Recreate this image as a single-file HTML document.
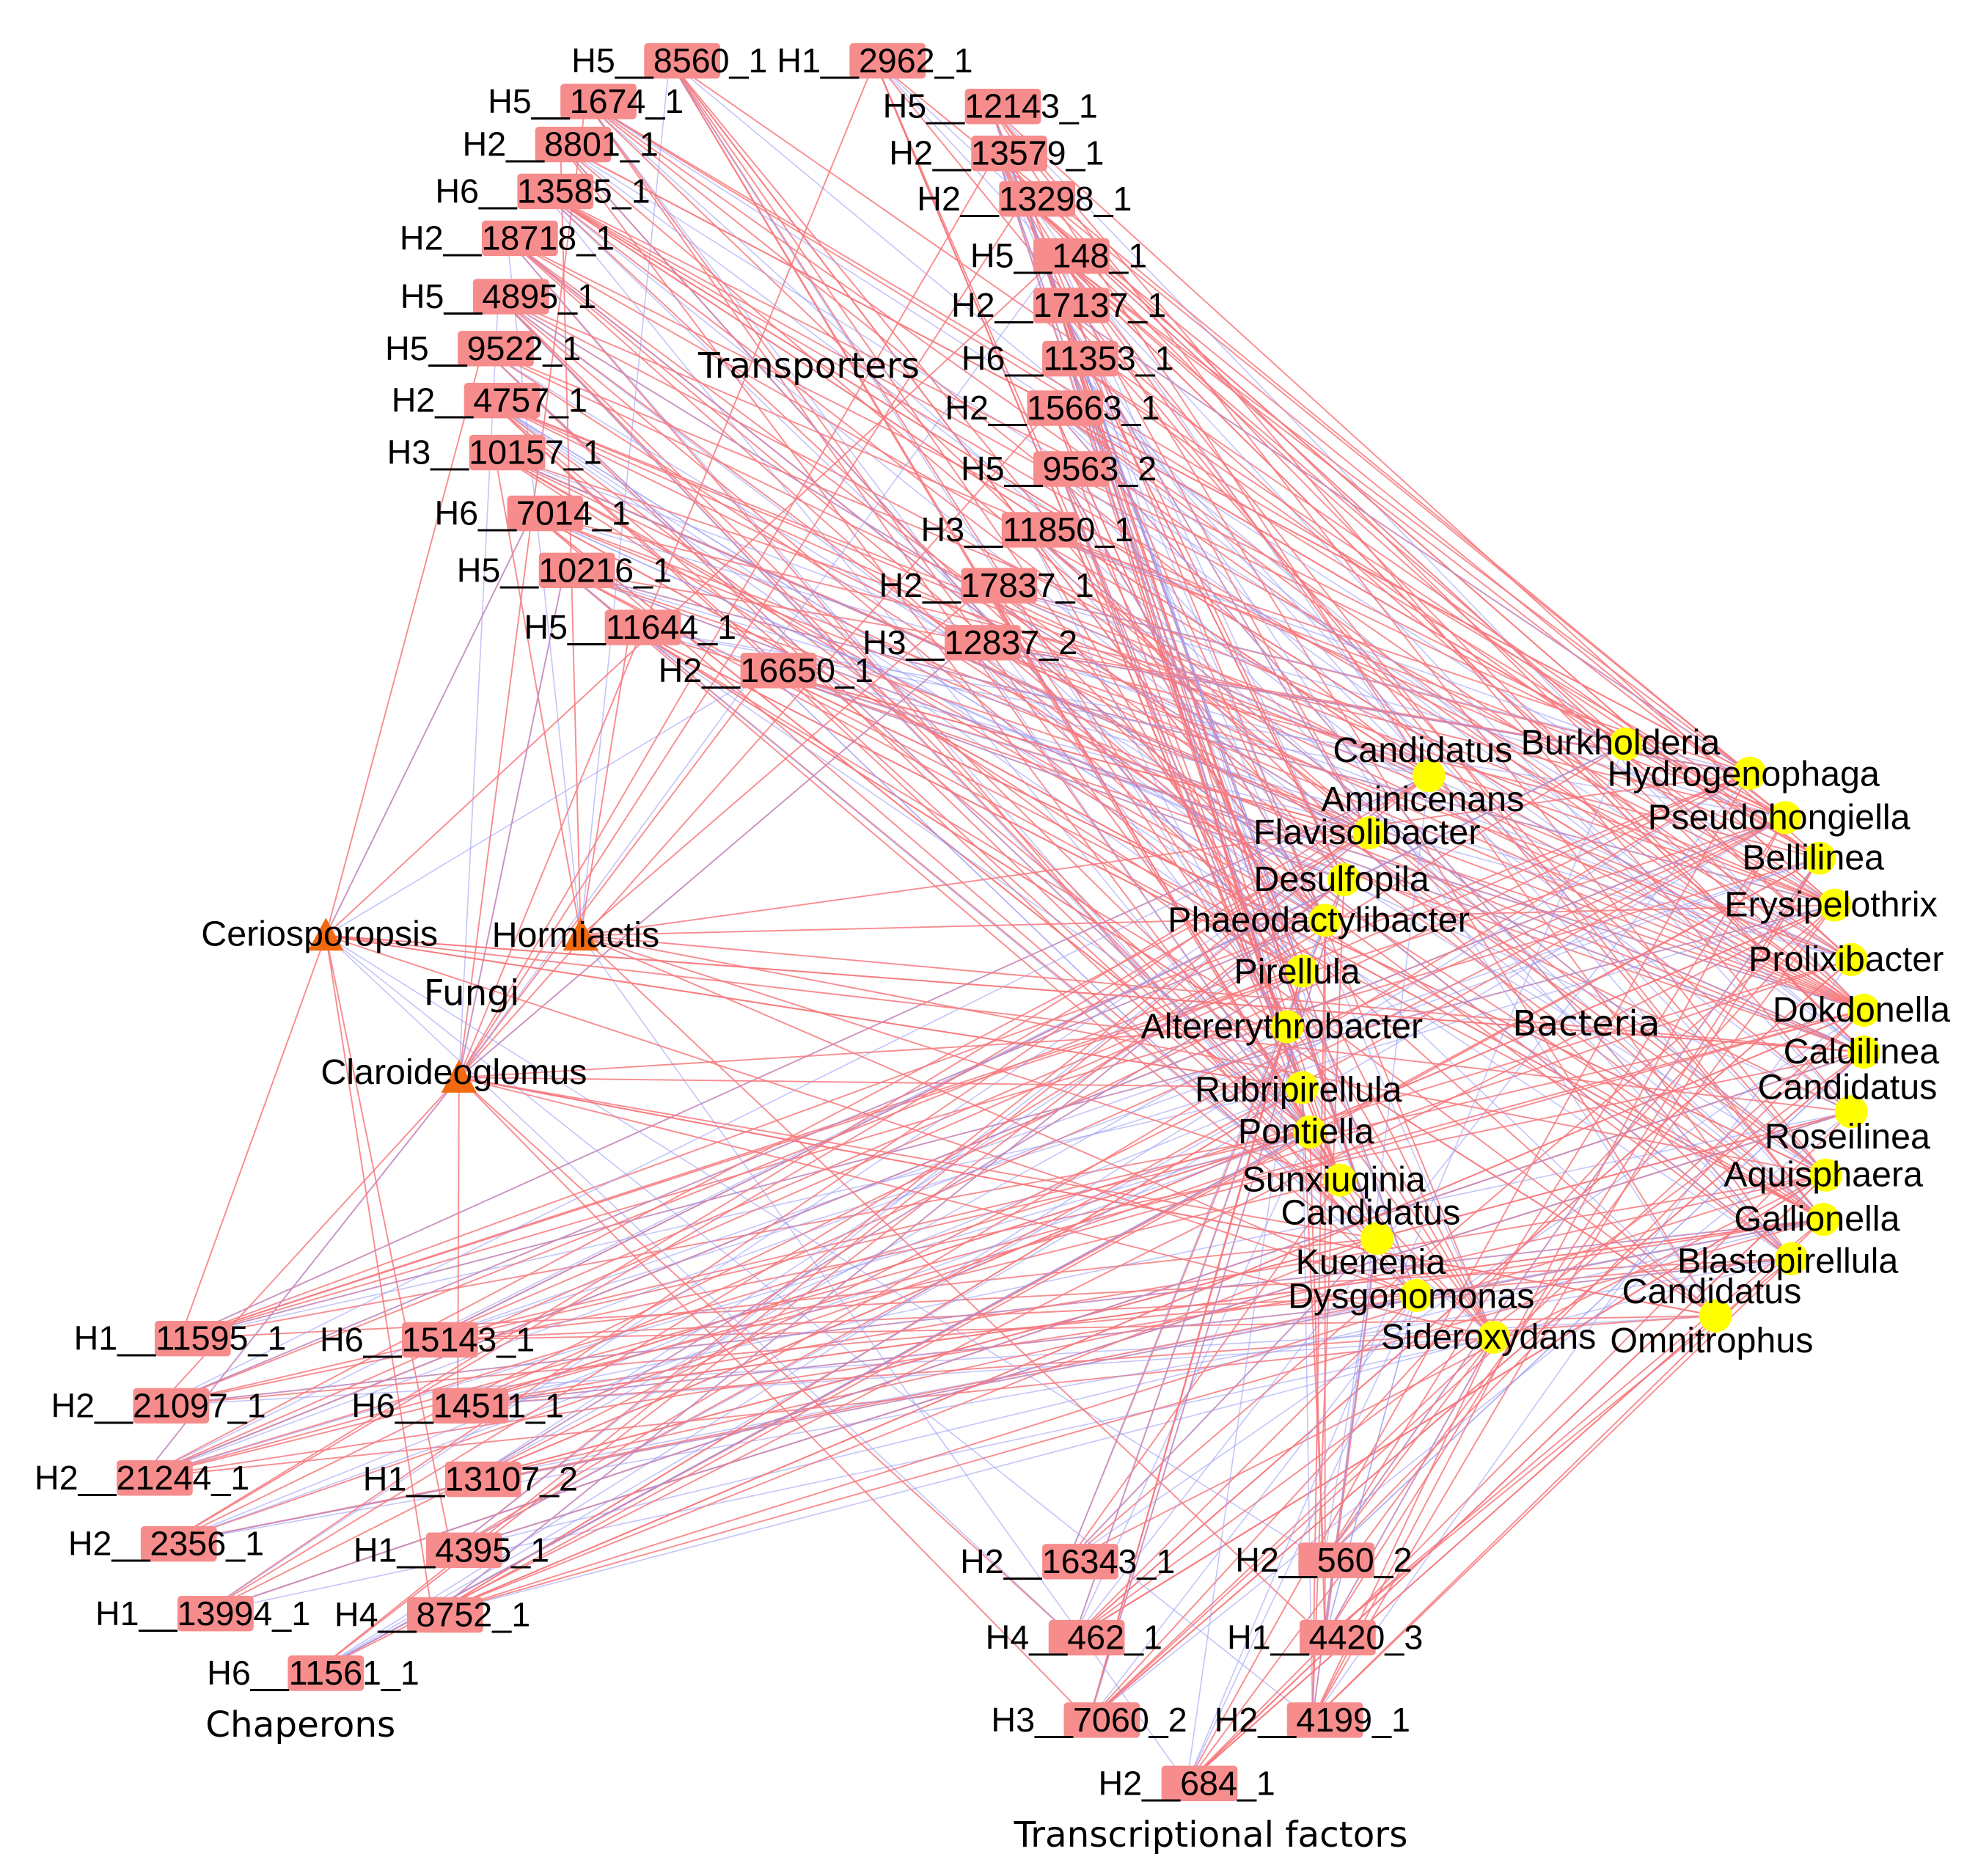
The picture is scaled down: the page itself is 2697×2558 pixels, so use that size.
<!DOCTYPE html>
<html><head><meta charset="utf-8">
<style>
html,body{margin:0;padding:0;background:#fff;}
svg{display:block;}
text{font-family:"Liberation Sans",Arial,sans-serif;fill:#000;}
.g{font-size:27px;}
.b{font-size:28px;}
.c{font-size:28px;font-family:"DejaVu Sans","Liberation Sans",sans-serif;}
</style></head>
<body>
<svg id="s" width="2697" height="2558" viewBox="0 0 1560 1480" preserveAspectRatio="none" xmlns="http://www.w3.org/2000/svg">
<g id="edges"></g>
<g id="nodes"></g>
<g id="labels"></g>
<text class="c" x="638" y="298" text-anchor="middle">Transporters</text>
<text class="c" x="372" y="793" text-anchor="middle">Fungi</text>
<text class="c" x="1251" y="817" text-anchor="middle">Bacteria</text>
<text class="c" x="237" y="1370" text-anchor="middle">Chaperons</text>
<text class="c" x="955" y="1457" text-anchor="middle">Transcriptional factors</text>
</svg>
<script>
var genes=[
["H5__8560_1",528,48],["H1__2962_1",690,48],["H5__1674_1",462,80],["H2__8801_1",442,114],
["H6__13585_1",428,151],["H2__18718_1",400,188],["H5__4895_1",393,234],["H5__9522_1",381,275],
["H2__4757_1",386,316],["H3__10157_1",390,357],["H6__7014_1",420,405],["H5__10216_1",445,450],
["H5__11644_1",497,495],["H2__16650_1",604,529],["H5__12143_1",781,84],["H2__13579_1",786,121],
["H2__13298_1",808,157],["H5__148_1",835,202],["H2__17137_1",835,241],["H6__11353_1",842,283],
["H2__15663_1",830,322],["H5__9563_2",835,370],["H3__11850_1",810,418],["H2__17837_1",778,462],
["H3__12837_2",765,507],
["H1__11595_1",142,1056],["H6__15143_1",337,1057],["H2__21097_1",125,1109],["H6__14511_1",361,1109],
["H2__21244_1",112,1166],["H1__13107_2",371,1167],["H2__2356_1",131,1218],["H1__4395_1",356,1223],
["H1__13994_1",160,1273],["H4__8752_1",341,1274],["H6__11561_1",247,1320],
["H2__16343_1",842,1232],["H2__560_2",1044,1231],["H4__462_1",847,1292],["H1__4420_3",1045,1292],
["H3__7060_2",859,1357],["H2__4199_1",1035,1357],["H2__684_1",936,1407]];
var fungi=[["Ceriosporopsis",257,738,252,746],["Hormiactis",458,738,454,747],["Claroideoglomus",362,850,358,855]];
var bac=[
[["Candidatus","Aminicenans"],1127,612,1122,[601,640]],["Burkholderia",1282,587,1278,595],
["Hydrogenophaga",1380,610,1375,620],["Pseudohongiella",1408,645,1403,654],["Bellilinea",1435,677,1430,686],
["Erysipelothrix",1447,714,1444,723],["Prolixibacter",1460,757,1456,766],["Dokdonella",1470,797,1468,806],
["Caldilinea",1470,830,1468,839],[["Candidatus","Roseilinea"],1460,877,1457,[867,906]],
["Aquisphaera",1440,927,1438,936],["Gallionella",1438,962,1433,971],["Blastopirellula",1413,993,1410,1004],
[["Candidatus","Omnitrophus"],1353,1038,1350,[1028,1067]],
["Flavisolibacter",1080,657,1078,666],["Desulfopila",1060,694,1058,703],["Phaeodactylibacter",1045,726,1040,735],
["Pirellula",1027,766,1023,776],["Altererythrobacter",1015,810,1011,819],["Rubripirellula",1027,858,1024,869],
["Pontiella",1033,893,1030,902],["Sunxiuqinia",1057,931,1052,940],[["Candidatus","Kuenenia"],1086,977,1081,[966,1005]],
["Dysgonomonas",1117,1022,1113,1032],["Sideroxydans",1178,1055,1174,1064]];
var NS="http://www.w3.org/2000/svg";
function el(t,a,p){var e=document.createElementNS(NS,t);for(var k in a)e.setAttribute(k,a[k]);p.appendChild(e);return e;}
var E=document.getElementById("edges"),N=document.getElementById("nodes"),L=document.getElementById("labels");
var seed=12345;function r(){seed=(seed*1103515245+12345)&0x7fffffff;return seed/0x7fffffff;}
var targets=[];
bac.forEach(function(b){targets.push([b[1],b[2]]);});
var ft=fungi.map(function(f){return [f[1],f[2]];});
genes.forEach(function(g,i){
  var nR=5+Math.floor(r()*5), nB=2+Math.floor(r()*3);
  for(var k=0;k<nR;k++){var t=targets[Math.floor(r()*targets.length)];
    el("line",{x1:g[1],y1:g[2],x2:t[0],y2:t[1],stroke:"#f7787c","stroke-width":1.1,"stroke-opacity":0.85},E);}
  for(var k=0;k<nB;k++){var t=targets[Math.floor(r()*targets.length)];
    el("line",{x1:g[1],y1:g[2],x2:t[0],y2:t[1],stroke:"#9a9cf5","stroke-width":0.9,"stroke-opacity":0.6},E);}
  if(r()<0.6){var t=ft[Math.floor(r()*3)];
    el("line",{x1:g[1],y1:g[2],x2:t[0],y2:t[1],stroke:"#f7787c","stroke-width":1.1,"stroke-opacity":0.85},E);}
  if(r()<0.3){var t=ft[Math.floor(r()*3)];
    el("line",{x1:g[1],y1:g[2],x2:t[0],y2:t[1],stroke:"#9a9cf5","stroke-width":0.9,"stroke-opacity":0.6},E);}
});
fungi.forEach(function(f){for(var k=0;k<6;k++){var t=targets[Math.floor(r()*targets.length)];
  el("line",{x1:f[1],y1:f[2],x2:t[0],y2:t[1],stroke:"#f7787c","stroke-width":1.1,"stroke-opacity":0.85},E);}});
genes.forEach(function(g){
  el("rect",{x:g[1]-20,y:g[2]-14,width:60,height:28,rx:3,fill:"#f78c8c"},N);
  var t=el("text",{x:g[1],y:g[2]+9,"text-anchor":"middle","class":"g"},L);t.textContent=g[0];
});
fungi.forEach(function(f){
  el("polygon",{points:(f[1]-14)+","+(f[2]+12)+" "+(f[1]+14)+","+(f[2]+12)+" "+f[1]+","+(f[2]-14),fill:"#f26a10"},N);
  var t=el("text",{x:f[3],y:f[4],"text-anchor":"middle","class":"b"},L);t.textContent=f[0];
});
bac.forEach(function(b){
  el("circle",{cx:b[1],cy:b[2],r:13,fill:"#ffff00"},N);
  if(Array.isArray(b[0])){for(var i=0;i<2;i++){var t=el("text",{x:b[3],y:b[4][i],"text-anchor":"middle","class":"b"},L);t.textContent=b[0][i];}}
  else{var t=el("text",{x:b[3],y:b[4],"text-anchor":"middle","class":"b"},L);t.textContent=b[0];}
});
</script>
</body></html>
